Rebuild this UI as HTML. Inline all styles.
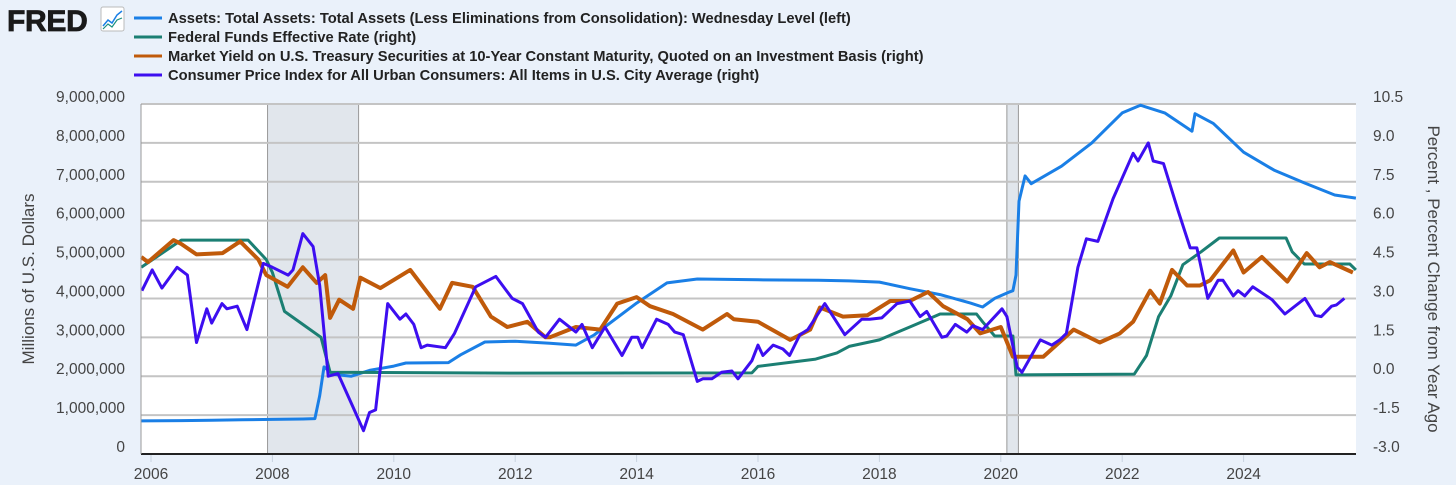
<!DOCTYPE html>
<html><head><meta charset="utf-8"><style>
body{margin:0;background:#eaf1fa;font-family:"Liberation Sans",sans-serif;}
#wrap{position:relative;width:1456px;height:485px;overflow:hidden;background:#eaf1fa;}
</style></head><body>
<div id="wrap">
<svg id="chart" width="1456" height="485" xmlns="http://www.w3.org/2000/svg">
<g>
<text x="7" y="31" font-family="Liberation Sans" font-weight="bold" font-size="30" fill="#1a1a1a" letter-spacing="-0.3" stroke="#1a1a1a" stroke-width="0.8">FRED</text>
<rect x="101" y="7" width="23" height="24" rx="2" fill="#fff" stroke="#bbb"/>
<polyline points="103,26 108,20 112,23 117,15 122,11" fill="none" stroke="#1a7fe6" stroke-width="1.5"/>
<polyline points="103,29 108,24 112,27 117,20 122,18" fill="none" stroke="#1b8f7f" stroke-width="1.2"/>
</g>
<g id="legend"></g>
<g id="plot"></g>
</svg>
</div>
<script>
const assetsDates=[2005.84,2006.5,2007.0,2007.5,2008.0,2008.5,2008.7,2008.78,2008.85,2009.0,2009.3,2009.6,2010.0,2010.2,2010.9,2011.1,2011.5,2012.0,2012.57,2013.0,2013.3,2014.0,2014.5,2015.0,2016.0,2017.0,2017.5,2018.0,2018.5,2019.0,2019.5,2019.7,2019.9,2020.15,2020.2,2020.25,2020.3,2020.4,2020.5,2021.0,2021.5,2022.0,2022.3,2022.7,2023.15,2023.2,2023.5,2024.0,2024.5,2025.0,2025.5,2025.85];
const assetsValues=[850000,860000,870000,880000,890000,900000,910000,1500000,2240000,2050000,2000000,2150000,2260000,2340000,2350000,2550000,2880000,2900000,2850000,2800000,3060000,3880000,4400000,4500000,4480000,4470000,4450000,4420000,4250000,4100000,3880000,3780000,4000000,4170000,4200000,4600000,6500000,7150000,6950000,7400000,8000000,8770000,8970000,8770000,8300000,8750000,8500000,7760000,7300000,6970000,6660000,6580000];
const fedDates=[2005.84,2006.5,2007.6,2007.9,2008.0,2008.2,2008.5,2008.8,2008.95,2012.0,2015.9,2016.0,2016.95,2017.3,2017.5,2018.0,2018.3,2018.5,2018.8,2019.0,2019.6,2019.7,2019.9,2020.2,2020.25,2022.2,2022.4,2022.6,2022.8,2023.0,2023.3,2023.6,2024.7,2024.8,2025.0,2025.75,2025.85];
const fedValues=[4.2,5.25,5.25,4.5,4.0,2.5,2.0,1.5,0.15,0.12,0.13,0.38,0.66,0.9,1.15,1.4,1.7,1.9,2.2,2.4,2.4,2.1,1.55,1.55,0.05,0.08,0.8,2.3,3.1,4.3,4.8,5.33,5.33,4.8,4.33,4.33,4.1];
const tenYrDates=[2005.84,2005.95,2006.37,2006.5,2006.75,2007.18,2007.47,2007.77,2007.9,2008.25,2008.5,2008.73,2008.87,2008.95,2009.1,2009.33,2009.45,2009.78,2010.27,2010.76,2010.96,2011.3,2011.6,2011.87,2012.2,2012.5,2012.57,2013.0,2013.4,2013.68,2014.0,2014.22,2014.6,2015.09,2015.49,2015.6,2016.0,2016.53,2016.86,2017.02,2017.4,2017.8,2018.18,2018.5,2018.8,2019.05,2019.45,2019.66,2020.0,2020.2,2020.7,2021.2,2021.63,2021.96,2022.18,2022.46,2022.62,2022.82,2023.07,2023.28,2023.45,2023.83,2024.0,2024.3,2024.72,2025.04,2025.25,2025.42,2025.8];
const tenYrValues=[4.6,4.4,5.25,5.1,4.7,4.75,5.2,4.5,3.9,3.45,4.2,3.6,3.9,2.25,2.95,2.6,3.8,3.4,4.1,2.6,3.6,3.45,2.3,1.9,2.1,1.5,1.5,1.9,1.8,2.8,3.05,2.7,2.4,1.8,2.4,2.2,2.1,1.4,1.8,2.65,2.3,2.35,2.9,2.9,3.25,2.7,2.2,1.65,1.9,0.75,0.75,1.8,1.3,1.65,2.1,3.3,2.8,4.1,3.5,3.5,3.7,4.85,4.0,4.6,3.65,4.75,4.2,4.4,4.0];
const cpiDates=[2005.85,2006.02,2006.18,2006.43,2006.6,2006.75,2006.92,2007.0,2007.17,2007.25,2007.42,2007.58,2007.85,2008.0,2008.26,2008.34,2008.5,2008.67,2008.78,2008.92,2009.08,2009.33,2009.5,2009.6,2009.7,2009.9,2010.1,2010.2,2010.33,2010.45,2010.55,2010.85,2011.0,2011.35,2011.68,2011.95,2012.12,2012.38,2012.5,2012.73,2013.0,2013.1,2013.27,2013.48,2013.76,2013.92,2014.02,2014.09,2014.33,2014.52,2014.63,2014.77,2015.0,2015.09,2015.24,2015.4,2015.57,2015.67,2015.9,2016.0,2016.08,2016.25,2016.41,2016.52,2016.69,2016.82,2017.1,2017.43,2017.71,2017.84,2018.04,2018.29,2018.5,2018.67,2018.78,2019.03,2019.11,2019.25,2019.44,2019.54,2019.7,2020.02,2020.1,2020.27,2020.35,2020.65,2020.84,2020.97,2021.08,2021.27,2021.41,2021.6,2021.85,2022.18,2022.26,2022.43,2022.51,2022.68,2022.92,2023.12,2023.23,2023.41,2023.58,2023.66,2023.83,2023.91,2024.02,2024.15,2024.47,2024.68,2025.01,2025.18,2025.28,2025.45,2025.53,2025.66];
const cpiValues=[3.3,4.1,3.4,4.2,3.9,1.3,2.6,2.05,2.8,2.6,2.7,1.8,4.35,4.2,3.9,4.1,5.5,5.0,3.5,0.0,0.1,-1.2,-2.1,-1.4,-1.3,2.8,2.2,2.4,2.0,1.1,1.2,1.1,1.65,3.45,3.85,3.0,2.8,1.7,1.5,2.2,1.7,2.0,1.1,1.9,0.8,1.5,1.5,1.1,2.2,2.0,1.7,1.6,-0.2,-0.1,-0.1,0.15,0.2,-0.1,0.6,1.2,0.8,1.2,1.05,0.8,1.6,1.8,2.8,1.6,2.2,2.2,2.25,2.8,2.9,2.3,2.5,1.5,1.55,2.0,1.7,1.95,1.8,2.6,2.3,0.35,0.15,1.4,1.2,1.4,1.65,4.2,5.3,5.2,6.85,8.6,8.3,9.0,8.3,8.2,6.4,4.95,4.95,3.0,3.7,3.7,3.1,3.3,3.1,3.45,2.95,2.4,3.0,2.35,2.3,2.7,2.75,3.0];
const leftTicks=[0,1000000,2000000,3000000,4000000,5000000,6000000,7000000,8000000,9000000];
const rightTicks=["-3.0","-1.5","0.0","1.5","3.0","4.5","6.0","7.5","9.0","10.5"];
const yearTicks=[2006,2008,2010,2012,2014,2016,2018,2020,2022,2024];
const recessions=[[2007.92,2009.42],[2020.1,2020.29]];
const legendLabels=["Assets: Total Assets: Total Assets (Less Eliminations from Consolidation): Wednesday Level (left)","Federal Funds Effective Rate (right)","Market Yield on U.S. Treasury Securities at 10-Year Constant Maturity, Quoted on an Investment Basis (right)","Consumer Price Index for All Urban Consumers: All Items in U.S. City Average (right)"];
const colors=["#1a7fe6","#1b7f73","#c05a0a","#3d0ef0"];

const NS="http://www.w3.org/2000/svg";
const L=141,R=1356,T=104,B=454;
function xs(t){return 151+(t-2006)*60.7;}
function yl(v){return B-v/1e6*(B-T)/9;}
function yr(v){return B-(v+3)*(B-T)/13.5;}
function mk(tag,attrs,parent){const e=document.createElementNS(NS,tag);for(const k in attrs)e.setAttribute(k,attrs[k]);parent.appendChild(e);return e;}
const svg=document.getElementById('plot');
const leg=document.getElementById('legend');
legendLabels.forEach((s,i)=>{
  const y=18+i*19;
  const ln=mk('line',{x1:134,x2:162,y1:y,y2:y,stroke:colors[i],'stroke-width':3},leg);
  
  
  const t=mk('text',{x:168,y:y+5,'font-size':14.7,'font-weight':'bold',fill:'#222','font-family':'Liberation Sans'},leg);
  t.textContent=s;
  
  
});
const bg=mk('rect',{x:L,y:T,width:R-L,height:B-T,fill:'#fff'},svg);


recessions.forEach((r,i)=>{
  const re=mk('rect',{x:xs(r[0]),y:T,width:xs(r[1])-xs(r[0]),height:B-T,fill:'#e1e6ec',stroke:'#999','stroke-width':1},svg);
  
  
});
leftTicks.forEach((v,i)=>{
  const y=yl(v);
  if(i>0){const g=mk('line',{x1:L,x2:R,y1:y,y2:y,stroke:'#c4c4c4','stroke-width':2},svg);
  
  }
  const t=mk('text',{x:125,y:y-2,'text-anchor':'end','font-size':15.5,fill:'#444'},svg);
  t.textContent=v.toLocaleString('en-US');
  
  
  const t2=mk('text',{x:1373,y:y-2,'font-size':15.5,fill:'#444'},svg);
  t2.textContent=rightTicks[i];
  
  
});
yearTicks.forEach(yv=>{
  const x=xs(yv);
  const tk=mk('line',{x1:x,x2:x,y1:B,y2:B+8,stroke:'#c8d3e0','stroke-width':1},svg);
  
  
  const t=mk('text',{x:x,y:B+25,'text-anchor':'middle','font-size':15.5,fill:'#444'},svg);
  t.textContent=yv;
  
  
});
function series(d,v,f,c,name,w){
  const p=mk('polyline',{points:d.map((t,i)=>xs(t).toFixed(1)+','+f(v[i]).toFixed(1)).join(' '),fill:'none',stroke:c,'stroke-width':w,'stroke-linejoin':'round'},svg);
  
  
}
series(assetsDates,assetsValues,yl,colors[0],'assets-line',3);
series(fedDates,fedValues,yr,colors[1],'fed-funds-line',3);
series(tenYrDates,tenYrValues,yr,colors[2],'treasury-10y-line',4);
series(cpiDates,cpiValues,yr,colors[3],'cpi-line',3);
const ax=mk('line',{x1:L,x2:R,y1:B,y2:B,stroke:'#222','stroke-width':2},svg);


const ya=mk('line',{x1:L,x2:L,y1:T,y2:B,stroke:'#999','stroke-width':1},svg);


const lt=mk('text',{transform:'translate(34,279) rotate(-90)','text-anchor':'middle','font-size':17,fill:'#444'},svg);
lt.textContent='Millions of U.S. Dollars';


const rt=mk('text',{transform:'translate(1428,279) rotate(90)','text-anchor':'middle','font-size':17,fill:'#444'},svg);
rt.textContent='Percent , Percent Change from Year Ago';


</script>
</body></html>
